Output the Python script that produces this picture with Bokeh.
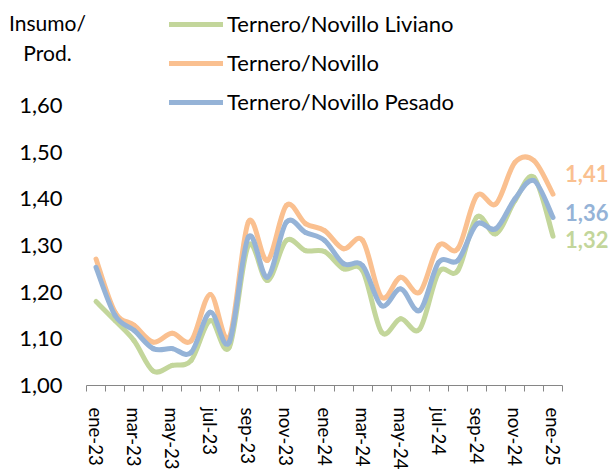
from bokeh.plotting import figure
from bokeh.models import (FixedTicker, CustomJSTickFormatter, Range1d, Legend,
                          LegendItem, ColumnDataSource)
from bokeh.core.properties import value
from bokeh.embed import file_html
from bokeh.resources import INLINE
import numpy as np

months = ["ene-23", "feb-23", "mar-23", "abr-23", "may-23", "jun-23", "jul-23",
          "ago-23", "sep-23", "oct-23", "nov-23", "dic-23", "ene-24", "feb-24",
          "mar-24", "abr-24", "may-24", "jun-24", "jul-24", "ago-24", "sep-24",
          "oct-24", "nov-24", "dic-24", "ene-25"]

liviano = [1.180, 1.139, 1.096, 1.031, 1.043, 1.054, 1.139, 1.082, 1.300, 1.225,
           1.311, 1.289, 1.287, 1.250, 1.246, 1.114, 1.143, 1.121, 1.243, 1.246,
           1.361, 1.325, 1.396, 1.446, 1.32]
novillo = [1.271, 1.157, 1.129, 1.093, 1.112, 1.096, 1.195, 1.103, 1.350, 1.268,
           1.386, 1.347, 1.332, 1.293, 1.311, 1.189, 1.232, 1.200, 1.300, 1.293,
           1.407, 1.389, 1.478, 1.482, 1.41]
pesado = [1.253, 1.150, 1.118, 1.079, 1.079, 1.071, 1.157, 1.093, 1.318, 1.232,
          1.350, 1.328, 1.311, 1.261, 1.257, 1.171, 1.207, 1.161, 1.264, 1.268,
          1.346, 1.336, 1.400, 1.439, 1.36]

series_names = ["Ternero/Novillo Liviano", "Ternero/Novillo", "Ternero/Novillo Pesado"]
series_vals = [liviano, novillo, pesado]
y_ticks = [1.0, 1.1, 1.2, 1.3, 1.4, 1.5, 1.6]
y_min = 1.0
axis_title = ["Insumo/", "Prod."]

# styles / placement
colors = ["#C3D69B", "#FAC090", "#95B3D7"]
end_label_dy = [-3, 21, 5]          # pixels up from the last point
title_x = -2.55                     # in category units, left of the axis
title_y = [1.778, 1.7135]
FONT = "Lato"

p = figure(frame_width=614, frame_height=473, output_backend="svg",
           toolbar_location=None,
           x_range=Range1d(-5.017, 27.23), y_range=Range1d(0.8114, 1.825),
           min_border_left=0, min_border_right=0, min_border_top=0,
           min_border_bottom=0)
p.outline_line_color = None
p.grid.visible = False
p.background_fill_color = "white"
p.border_fill_color = "white"

x = np.arange(len(months), dtype=float)


def smooth_segments(xs, ys):
    xs = np.asarray(xs, float)
    ys = np.asarray(ys, float)
    n = len(xs)
    xp = np.concatenate([[xs[0]], xs, [xs[-1]]])
    yp = np.concatenate([[ys[0]], ys, [ys[-1]]])
    i = np.arange(n - 1)
    x0, y0 = xp[i + 1], yp[i + 1]
    x1, y1 = xp[i + 2], yp[i + 2]
    cx0 = x0 + (xp[i + 2] - xp[i]) / 6.0
    cy0 = y0 + (yp[i + 2] - yp[i]) / 6.0
    cx1 = x1 - (xp[i + 3] - xp[i + 1]) / 6.0
    cy1 = y1 - (yp[i + 3] - yp[i + 1]) / 6.0
    return dict(x0=x0, y0=y0, x1=x1, y1=y1, cx0=cx0, cy0=cy0, cx1=cx1, cy1=cy1)


items = []
for name, vals, col in zip(series_names, series_vals, colors):
    src = ColumnDataSource(smooth_segments(x, vals))
    r = p.bezier(x0="x0", y0="y0", x1="x1", y1="y1", cx0="cx0", cy0="cy0",
                 cx1="cx1", cy1="cy1", source=src, line_color=col, line_width=5,
                 line_cap="round")
    items.append(LegendItem(label=name, renderers=[r]))

# end labels
for vals, col, dy in zip(series_vals, colors, end_label_dy):
    txt = f"{vals[-1]:.2f}".replace(".", ",")
    p.text(x=[x[-1]], y=[vals[-1]], text=[txt], x_offset=12, y_offset=-dy,
           text_color=col, text_font=value(FONT), text_font_style="bold",
           text_font_size="22px", text_baseline="middle", text_align="left")

# axis title
p.text(x=[title_x] * len(axis_title), y=title_y, text=axis_title,
       text_color="#000000", text_font=value(FONT), text_font_size="21px",
       text_align="center", text_baseline="middle")

legend = Legend(items=items, location=(169, 358), orientation="vertical",
                glyph_width=54, glyph_height=20, label_height=20, spacing=12,
                label_standoff=4, padding=0, margin=0,
                border_line_color=None, background_fill_alpha=0,
                label_text_font=FONT, label_text_font_size="22px",
                label_text_color="#000000")
p.add_layout(legend)

# y axis, drawn at the left edge of the first category
p.yaxis.fixed_location = -0.5
p.yaxis.ticker = FixedTicker(ticks=y_ticks)
p.yaxis.formatter = CustomJSTickFormatter(code="return tick.toFixed(2).replace('.', ',');")
p.yaxis.axis_line_color = None
p.yaxis.major_tick_line_color = None
p.yaxis.minor_tick_line_color = None
p.yaxis.major_tick_out = 0
p.yaxis.major_label_standoff = 24
p.yaxis.major_label_text_font = FONT
p.yaxis.major_label_text_font_size = "22px"
p.yaxis.major_label_text_color = "#000000"

# x axis, drawn at the bottom of the value range
p.xaxis.fixed_location = y_min
p.xaxis.ticker = FixedTicker(ticks=list(range(0, len(months), 2)),
                             minor_ticks=[i - 0.5 for i in range(len(months) + 1)])
p.xaxis.formatter = CustomJSTickFormatter(args=dict(labels=months),
                                          code="return labels[Math.round(tick)] || '';")
p.xaxis.bounds = (-0.5, len(months) - 0.5)
p.xaxis.axis_line_color = "#868686"
p.xaxis.axis_line_width = 1
p.xaxis.major_tick_line_color = None
p.xaxis.major_tick_out = 0
p.xaxis.major_tick_in = 0
p.xaxis.minor_tick_line_color = "#868686"
p.xaxis.minor_tick_out = 6
p.xaxis.minor_tick_in = 0
p.xaxis.major_label_orientation = "vertical"
p.xaxis.major_label_standoff = 16
p.xaxis.major_label_text_font = FONT
p.xaxis.major_label_text_font_size = "18.5px"
p.xaxis.major_label_text_color = "#000000"

open("out.html", "w").write(file_html(p, INLINE))
